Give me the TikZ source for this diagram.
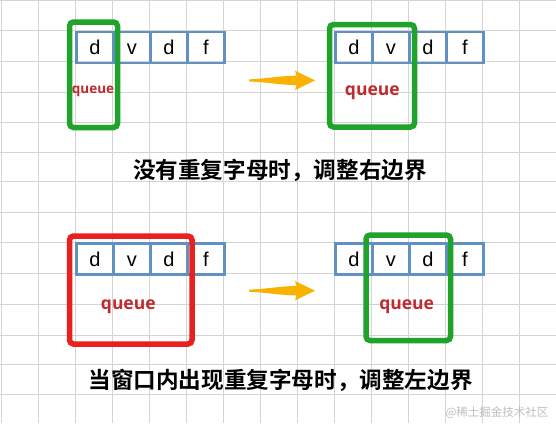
\documentclass[tikz,border=0pt]{standalone}
\usepackage{fontspec}
\setmainfont{Liberation Sans}
\newfontfamily\cjk{Noto Sans CJK SC}[BoldFont=* Bold]
\newfontfamily\qfont{Open Sans}[BoldFont=* Bold]
\definecolor{gridc}{RGB}{212,212,212}
\definecolor{cellc}{RGB}{96,145,194}
\definecolor{grn}{RGB}{32,163,42}
\definecolor{rd}{RGB}{232,32,30}
\definecolor{qc}{RGB}{190,42,46}
\definecolor{arr}{RGB}{250,178,0}
\definecolor{wm}{RGB}{190,190,190}
\begin{document}
\begin{tikzpicture}[x=1pt,y=-1pt,
  cell/.style={draw=cellc,line width=2.2pt,minimum width=37pt,minimum height=31pt,inner sep=0pt,
    text height=14.5pt,text depth=0pt,anchor=north west,font=\fontsize{20}{20}\selectfont},
  winbox/.style={line width=5.5pt,rounded corners=4pt},
  qlab/.style={text=qc,font=\qfont\bfseries\fontsize{17.5}{17.5}\selectfont},
  qsmall/.style={text=qc,font=\qfont\bfseries\fontsize{13.5}{13.5}\selectfont},
  caption/.style={font=\cjk\bfseries\fontsize{22.6}{22.6}\selectfont},
  arrowshape/.style={fill=arr}]
\useasboundingbox (0,0) rectangle (556,423);
\fill[white] (0,0) rectangle (556,423);
% grid
\foreach \k in {0,...,15} \draw[gridc,line width=1pt] ({1.3+37*\k},0) -- ({1.3+37*\k},423);
\foreach \y in {0,30.7,61.7,92.3,122.7,152.3,181.7,212.3,242.3,273.3,304,335,364,394.3}
  \draw[gridc,line width=1pt] (0,\y) -- (556,\y);
% top-left cells
\node[cell] (a1) at (75.3,30.7) {d};
\node[cell] (a2) at (112.3,30.7) {v};
\node[cell] (a3) at (149.3,30.7) {d};
\node[cell] (a4) at (186.3,30.7) {f};
% top-right cells
\node[cell] (b1) at (334.3,30.7) {d};
\node[cell] (b2) at (371.3,30.7) {v};
\node[cell] (b3) at (408.3,30.7) {d};
\node[cell] (b4) at (445.3,30.7) {f};
% bottom-left cells
\node[cell] (c1) at (75.3,242.3) {d};
\node[cell] (c2) at (112.3,242.3) {v};
\node[cell] (c3) at (149.3,242.3) {d};
\node[cell] (c4) at (186.3,242.3) {f};
% bottom-right cells
\node[cell] (d1) at (334.3,242.3) {d};
\node[cell] (d2) at (371.3,242.3) {v};
\node[cell] (d3) at (408.3,242.3) {d};
\node[cell] (d4) at (445.3,242.3) {f};
% window boxes
\draw[winbox,grn] (69.5,22) rectangle (117.5,127.5);
\draw[winbox,grn] (329.5,24.5) rectangle (414.5,127);
\draw[winbox,rd] (69.5,236) rectangle (192,344);
\draw[winbox,grn] (366,235) rectangle (450.5,340.5);
% queue labels
\node[qsmall] (q1) at (93,91) {queue};
\node[qlab] (q2) at (372.3,92.5) {queue};
\node[qlab] (q3) at (128.3,306.5) {queue};
\node[qlab] (q4) at (406.7,306.5) {queue};
% arrows
\coordinate (t1) at (249,80.7);
\coordinate (t2) at (249,291);
\foreach \t in {t1,t2}{
  \fill[arrowshape] (\t) ++(0,-1.3) .. controls ++(20,-1) and ++(-15,0) .. ++(47.5,-3.7)
     -- ++(-1.5,-5) -- ++(20,9.7) -- ++(-20,9.7) -- ++(1.5,-5)
     .. controls ++(-15,0) and ++(20,1) .. ++(-47.5,-3.7) -- cycle;
}
% captions
\node[caption] (cap1) at (280,170) {没有重复字母时，调整右边界};
\node[caption] (cap2) at (280.5,380) {当窗口内出现重复字母时，调整左边界};
\node[text=wm,font=\cjk\fontsize{11.5}{11.5}\selectfont,anchor=east] (wmk) at (552,412.3) {@稀土掘金技术社区};
\end{tikzpicture}
\end{document}
